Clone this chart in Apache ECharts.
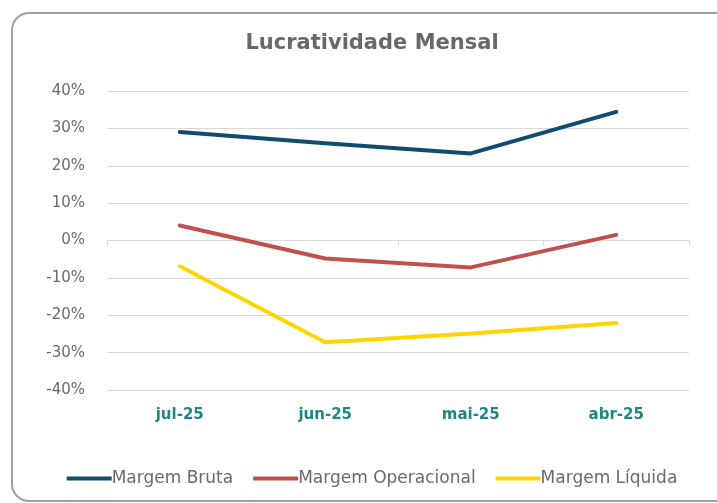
<!DOCTYPE html>
<html lang="pt">
<head>
    <meta charset="UTF-8">
    <title>Lucratividade Mensal</title>
    <script src="https://cdn.jsdelivr.net/npm/echarts@6.0.0/dist/echarts.min.js"></script>
    <style>
        html, body {
            margin: 0;
            padding: 0;
            background: #ffffff;
            overflow: hidden;
        }
        #frame {
            position: absolute;
            left: 11px;
            top: 12px;
            width: 720px;
            height: 486px;
            border: 2px solid #a0a0a0;
            border-radius: 18px;
        }
        /* the frame runs past the right edge, so the chart box does too */
        #chart {
            position: absolute;
            left: 0;
            top: 0;
            width: 744px;
            height: 503px;
        }
    </style>
</head>
<body>
    <div id="frame"></div>
    <div id="chart"></div>

    <script>
        const months = ['jul-25', 'jun-25', 'mai-25', 'abr-25'];
        const margemBruta = [29.0, 26.0, 23.3, 34.4];
        const margemOperacional = [4.0, -4.8, -7.2, 1.5];
        const margemLiquida = [-6.9, -27.2, -24.9, -22.1];

        const chart = echarts.init(document.getElementById('chart'));

        const option = {
            animation: false,
            title: {
                text: 'Lucratividade Mensal',
                left: 'center',
                top: 28,
                textStyle: {
                    fontFamily: 'DejaVu Sans',
                    fontSize: 21,
                    fontWeight: 'bold',
                    color: '#686868'
                }
            },
            legend: {
                bottom: 11,
                left: 'center',
                icon: 'rect',
                itemWidth: 45,
                itemHeight: 4,
                itemGap: 20,
                textStyle: {
                    fontFamily: 'DejaVu Sans',
                    fontSize: 17,
                    color: '#6a6a6a',
                    padding: [0, 0, 0, -5]
                },
                data: ['Margem Bruta', 'Margem Operacional', 'Margem Líquida']
            },
            grid: {
                left: 107,
                right: 55,
                top: 91,
                bottom: 113
            },
            xAxis: [
                {
                    type: 'category',
                    data: months,
                    axisLine: {onZero: true, lineStyle: {color: '#d9d9d9'}},
                    axisTick: {show: true, inside: false, length: 5, lineStyle: {color: '#d9d9d9'}},
                    axisLabel: {show: false}
                },
                {
                    type: 'category',
                    data: months,
                    position: 'bottom',
                    axisLine: {show: false, onZero: false},
                    axisTick: {show: false},
                    axisLabel: {
                        margin: 18,
                        fontFamily: 'DejaVu Sans',
                        fontSize: 15,
                        fontWeight: 'bold',
                        color: '#1f8589'
                    }
                }
            ],
            yAxis: {
                type: 'value',
                min: -40,
                max: 40,
                interval: 10,
                axisLine: {show: false},
                axisTick: {show: false},
                axisLabel: {
                    margin: 22,
                    formatter: '{value}%',
                    fontFamily: 'DejaVu Sans',
                    fontSize: 15,
                    color: '#6a6a6a'
                },
                splitLine: {lineStyle: {color: '#d9d9d9', width: 1}}
            },
            series: [
                {
                    name: 'Margem Bruta',
                    type: 'line',
                    data: margemBruta,
                    symbol: 'none',
                    lineStyle: {width: 4, color: '#0f4c6f', cap: 'round'},
                    itemStyle: {color: '#0f4c6f'}
                },
                {
                    name: 'Margem Operacional',
                    type: 'line',
                    data: margemOperacional,
                    symbol: 'none',
                    lineStyle: {width: 4, color: '#c0504d', cap: 'round'},
                    itemStyle: {color: '#c0504d'}
                },
                {
                    name: 'Margem Líquida',
                    type: 'line',
                    data: margemLiquida,
                    symbol: 'none',
                    lineStyle: {width: 4, color: '#ffd500', cap: 'round'},
                    itemStyle: {color: '#ffd500'}
                }
            ]
        };

        chart.setOption(option);
        window.addEventListener('resize', () => chart.resize());
    </script>
</body>
</html>
